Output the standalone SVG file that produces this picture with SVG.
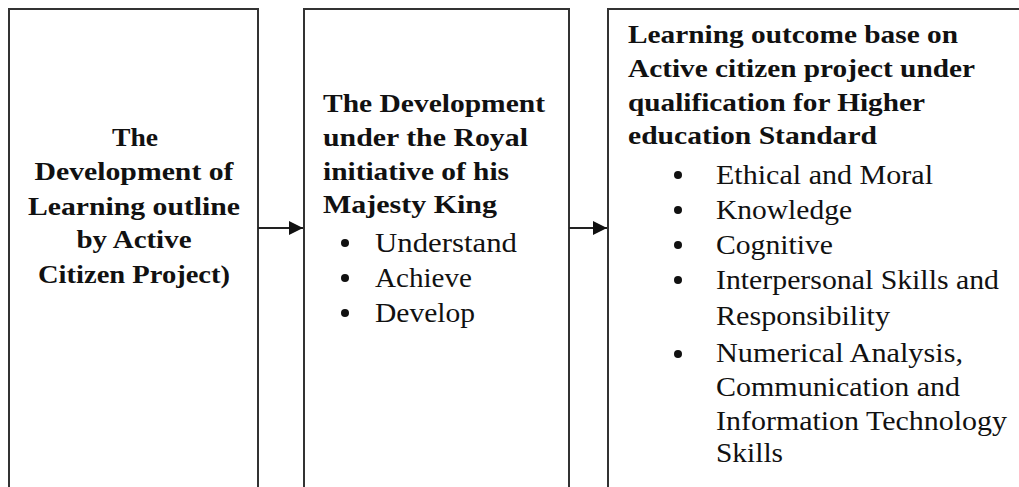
<svg xmlns="http://www.w3.org/2000/svg" width="1019" height="487" viewBox="0 0 1019 487">
<defs>
<style>
.box{fill:#fff;stroke:#333;stroke-width:2}
.b{font-family:'Liberation Serif','Times New Roman',Times,serif;font-weight:700;font-size:26px;fill:#111}
.r{font-family:'Liberation Serif','Times New Roman',Times,serif;font-weight:400;font-size:27px;fill:#111}
.dot{fill:#111}
.conn{stroke:#222;stroke-width:2;fill:none}
</style>
<marker id="ah" viewBox="0 0 10 10" refX="10" refY="5" markerWidth="14" markerHeight="14" markerUnits="userSpaceOnUse" orient="auto">
<path d="M0,0 L10,5 L0,10 Z" fill="#111"/>
</marker>
</defs>
<rect width="1019" height="487" fill="#fff"/>
<g id="node1">
<rect class="box" x="9" y="9" width="249" height="490"/>
<g class="b" text-anchor="middle">
<text x="135" y="146" textLength="46" lengthAdjust="spacingAndGlyphs">The</text>
<text x="134" y="180" textLength="199" lengthAdjust="spacingAndGlyphs">Development of</text>
<text x="134" y="215" textLength="212" lengthAdjust="spacingAndGlyphs">Learning outline</text>
<text x="134" y="248" textLength="115" lengthAdjust="spacingAndGlyphs">by Active</text>
<text x="134" y="283" textLength="192" lengthAdjust="spacingAndGlyphs">Citizen Project)</text>
</g>
</g>
<g id="node2">
<rect class="box" x="304" y="9" width="265" height="490"/>
<g class="b">
<text x="323" y="112" textLength="222" lengthAdjust="spacingAndGlyphs">The Development</text>
<text x="323" y="146" textLength="205" lengthAdjust="spacingAndGlyphs">under the Royal</text>
<text x="323" y="180" textLength="186" lengthAdjust="spacingAndGlyphs">initiative of his</text>
<text x="323" y="213" textLength="174" lengthAdjust="spacingAndGlyphs">Majesty King</text>
</g>
<circle class="dot" cx="345" cy="243" r="4"/>
<circle class="dot" cx="345" cy="278" r="4"/>
<circle class="dot" cx="345" cy="313" r="4"/>
<g class="r">
<text x="375" y="252" textLength="142" lengthAdjust="spacingAndGlyphs">Understand</text>
<text x="375" y="287" textLength="97" lengthAdjust="spacingAndGlyphs">Achieve</text>
<text x="375" y="322" textLength="100" lengthAdjust="spacingAndGlyphs">Develop</text>
</g>
</g>
<g id="node3">
<rect class="box" x="608" y="9" width="420" height="490"/>
<g class="b">
<text x="628" y="43" textLength="330" lengthAdjust="spacingAndGlyphs">Learning outcome base on</text>
<text x="628" y="77" textLength="347" lengthAdjust="spacingAndGlyphs">Active citizen project under</text>
<text x="628" y="111" textLength="297" lengthAdjust="spacingAndGlyphs">qualification for Higher</text>
<text x="628" y="144" textLength="249" lengthAdjust="spacingAndGlyphs">education Standard</text>
</g>
<circle class="dot" cx="678" cy="175" r="4"/>
<circle class="dot" cx="678" cy="210" r="4"/>
<circle class="dot" cx="678" cy="245" r="4"/>
<circle class="dot" cx="678" cy="280" r="4"/>
<circle class="dot" cx="678" cy="354" r="4"/>
<g class="r">
<text x="716" y="184" textLength="217" lengthAdjust="spacingAndGlyphs">Ethical and Moral</text>
<text x="716" y="219" textLength="136" lengthAdjust="spacingAndGlyphs">Knowledge</text>
<text x="716" y="254" textLength="117" lengthAdjust="spacingAndGlyphs">Cognitive</text>
<text x="716" y="289" textLength="283" lengthAdjust="spacingAndGlyphs">Interpersonal Skills and</text>
<text x="716" y="325" textLength="174" lengthAdjust="spacingAndGlyphs">Responsibility</text>
<text x="716" y="362" textLength="247" lengthAdjust="spacingAndGlyphs">Numerical Analysis,</text>
<text x="716" y="396" textLength="244" lengthAdjust="spacingAndGlyphs">Communication and</text>
<text x="716" y="430" textLength="291" lengthAdjust="spacingAndGlyphs">Information Technology</text>
<text x="716" y="462" textLength="67" lengthAdjust="spacingAndGlyphs">Skills</text>
</g>
</g>
<g id="connectors">
<line class="conn" x1="258" y1="228" x2="303" y2="228" marker-end="url(#ah)"/>
<line class="conn" x1="569" y1="228" x2="607" y2="228" marker-end="url(#ah)"/>
</g>
</svg>
